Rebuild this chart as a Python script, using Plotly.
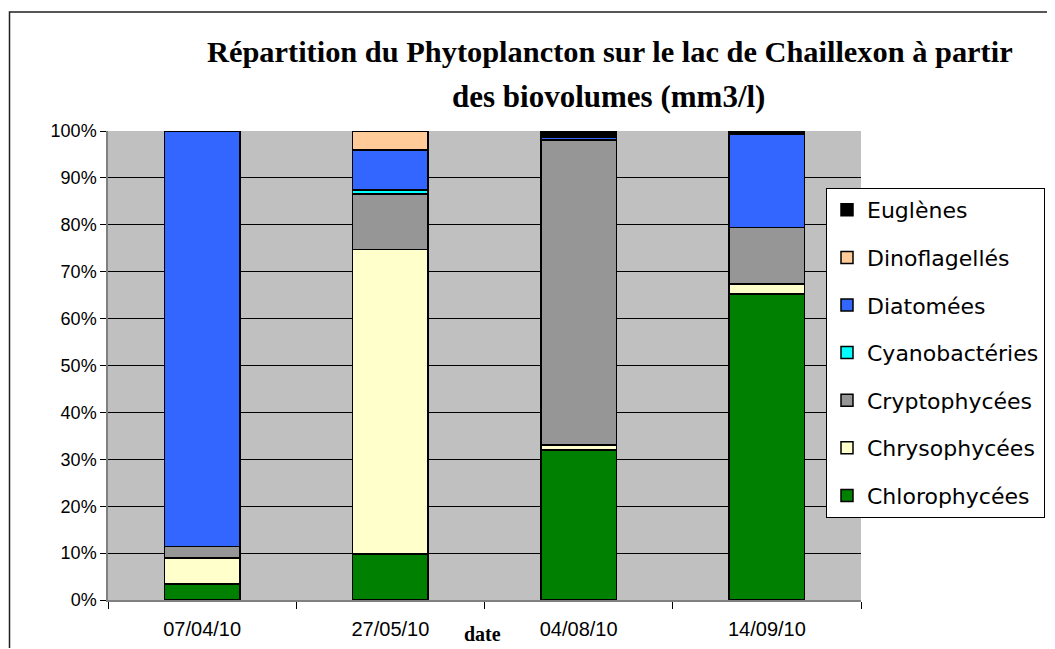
import plotly.graph_objects as go

dates = ["07/04/10", "27/05/10", "04/08/10", "14/09/10"]

chlorophycees = [3.4, 9.8, 32.0, 65.2]
chrysophycees = [5.6, 64.9, 1.0, 2.2]
cryptophycees = [2.4, 11.9, 65.1, 12.0]
cyanobacteries = [0.0, 0.8, 0.0, 0.0]
diatomees = [88.6, 8.5, 0.6, 20.0]
dinoflagelles = [0.0, 4.1, 0.0, 0.0]
euglenes = [0.0, 0.0, 1.3, 0.6]

series = [
    ("Chlorophycées", chlorophycees, "#008000"),
    ("Chrysophycées", chrysophycees, "#FFFFCC"),
    ("Cryptophycées", cryptophycees, "#969696"),
    ("Cyanobactéries", cyanobacteries, "#00FFFF"),
    ("Diatomées", diatomees, "#3366FF"),
    ("Dinoflagellés", dinoflagelles, "#FFCC99"),
    ("Euglènes", euglenes, "#000000"),
]

# page body has an 8px margin: figure coords = page coords - 8
W, H = 1047, 640
PL, PR, PT, PB = 100, 853, 123, 592  # plot area in figure pixels


def px(xp):
    return (xp - 8 - PL) / (PR - PL)


def py(yp):
    return (PB - (yp - 8)) / (PB - PT)


fig = go.Figure()
n = len(series)
for i, (name, vals, col) in enumerate(series):
    fig.add_trace(go.Bar(
        x=dates, y=vals, name=name, legendgroup=name, legendrank=n - i,
        marker=dict(color=col, line=dict(color="black", width=1.5)),
    ))

fig.update_layout(
    width=W, height=H,
    barmode="stack", bargap=0.6,
    paper_bgcolor="white", plot_bgcolor="#C0C0C0",
    margin=dict(l=PL, r=W - PR, t=PT, b=H - PB, autoexpand=False),
    font=dict(family="Liberation Sans, Arial", color="black"),
    showlegend=True,
    legend=dict(
        x=px(826), y=py(188), xanchor="left", yanchor="top",
        bgcolor="white", bordercolor="black", borderwidth=1,
        font=dict(family="DejaVu Sans", size=22, color="black"),
        traceorder="grouped", tracegroupgap=16,
    ),
    annotations=[
        dict(text="<b>Répartition du Phytoplancton sur le lac de Chaillexon à partir</b>",
             x=px(610), y=py(52), xref="paper", yref="paper",
             showarrow=False, xanchor="center", yanchor="middle",
             font=dict(family="Liberation Serif, Times New Roman", size=30.4)),
        dict(text="<b>des biovolumes (mm3/l)</b>",
             x=px(608), y=py(97), xref="paper", yref="paper",
             showarrow=False, xanchor="center", yanchor="middle",
             font=dict(family="Liberation Serif, Times New Roman", size=31)),
        dict(text="<b>date</b>",
             x=px(482), y=py(634), xref="paper", yref="paper",
             showarrow=False, xanchor="center", yanchor="middle",
             font=dict(family="Liberation Serif, Times New Roman", size=20)),
    ],
    shapes=[
        dict(type="rect", xref="paper", yref="paper",
             x0=px(9.5), x1=px(1075),
             y0=py(680), y1=py(12),
             line=dict(color="#202020", width=1.5), fillcolor="rgba(0,0,0,0)", layer="below"),
    ],
)

fig.update_xaxes(
    type="category", tickson="boundaries", ticks="outside", ticklen=7,
    tickcolor="black", showline=True, linecolor="#808080", linewidth=1.5,
    showgrid=False, tickfont=dict(size=20, family="Liberation Sans, Arial"),
    ticklabelstandoff=10,
)
fig.update_yaxes(
    range=[0, 100], tickmode="array",
    tickvals=[0, 10, 20, 30, 40, 50, 60, 70, 80, 90, 100],
    ticktext=["0%", "10%", "20%", "30%", "40%", "50%", "60%", "70%", "80%", "90%", "100%"],
    ticks="outside", ticklen=6, tickcolor="black",
    showline=True, linecolor="#808080", linewidth=1.5,
    showgrid=True, gridcolor="black", gridwidth=1, zeroline=False,
    tickfont=dict(size=18, family="Liberation Sans, Arial"),
)

fig.write_html("out.html")
